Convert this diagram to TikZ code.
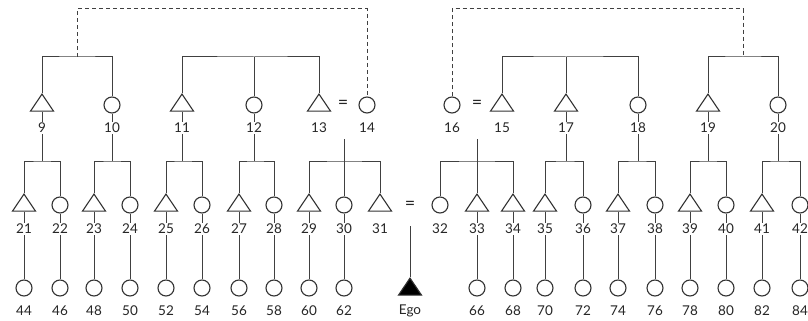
\documentclass[tikz,border=0pt]{standalone}
\usepackage{fontspec}
\setmainfont{Lato}
\usetikzlibrary{shapes.geometric}

\tikzset{
  kin/.style={line width=1pt, draw=black!75},
  male/.style={isosceles triangle, isosceles triangle apex angle=70,
    shape border rotate=90, draw=black!80, line width=1.1pt, inner sep=0pt,
    minimum height=17pt, minimum width=23pt, isosceles triangle stretches},
  ego/.style={male, fill=black},
  female/.style={circle, draw=black!80, line width=1.1pt, inner sep=0pt,
    minimum size=16pt},
  num/.style={fill=white, inner sep=0.8pt, text=black!85,
    font=\fontsize{13.5}{14}\selectfont},
  marr/.style={inner sep=0pt, text=black!85, font=\fontsize{18}{18}\selectfont},
  link/.style={line width=1pt, draw=black!75, dash pattern=on 4pt off 3pt}
}

\begin{document}
\begin{tikzpicture}[x=1pt,y=-1pt]
\useasboundingbox (0,0) rectangle (808,321);

% ---------- first generation ----------
\foreach \n/\x/\s in {9/42/male,10/112/female,11/182/male,12/254/female,
    13/319/male,14/367/female,16/452/female,15/502/male,17/566/male,
    18/638/female,19/708/male,20/778/female}{
  \node[\s] (p\n) at (\x,105) {};
}
\node[marr] (eqa) at (343,104) {=};
\node[marr] (eqb) at (477,104) {=};

% sibling junctions of the first generation
\coordinate (ka) at (77,57);
\coordinate (kb) at (254,57);
\coordinate (kc) at (566,57);
\coordinate (kd) at (743,57);
\coordinate (da) at (77,9);
\coordinate (db) at (743,9);

\draw[kin] (p9.north) |- (ka) -| (p10.north);
\draw[kin] (p11.north) |- (kb) -| (p13.north);
\draw[kin] (kb) -- (p12.north);
\draw[kin] (p15.north) |- (kc) -| (p18.north);
\draw[kin] (kc) -- (p17.north);
\draw[kin] (p19.north) |- (kd) -| (p20.north);

% dashed links between the two sides
\draw[link] (ka) -- (da) -| (p14.north);
\draw[link] (p16.north) |- (db) -- (kd);

% ---------- second generation ----------
\foreach \n/\x/\s in {21/24/male,22/60/female,23/94/male,24/130/female,
    25/166/male,26/202/female,27/239/male,28/274/female,29/309/male,
    30/344/female,31/380/male,32/440/female,33/477/male,34/513/male,
    35/545/male,36/583/female,37/618/male,38/655/female,39/690/male,
    40/726/female,41/762/male,42/800/female}{
  \node[\s] (p\n) at (\x,205) {};
}
\node[marr] (eqc) at (410,205) {=};

% sibling junctions of the second generation
\foreach \k/\x in {9/42,10/112,11/182,12/254,13/344,16/477,17/566,18/638,
    19/708,20/778}{
  \coordinate (k\k) at (\x,161);
}
\coordinate (ma) at (344,139);
\coordinate (mb) at (477,139);

\foreach \a/\k/\b in {21/9/22,23/10/24,25/11/26,27/12/28,29/13/31,32/16/34,
    35/17/36,37/18/38,39/19/40,41/20/42}{
  \draw[kin] (p\a.north) |- (k\k) -| (p\b.north);
}
\draw[kin] (k13) -- (p30.north);
\draw[kin] (k16) -- (p33.north);

% descent lines from the first generation
\foreach \n in {9,10,11,12,17,18,19,20}{
  \draw[kin] (p\n.south) -- (k\n);
}
\draw[kin] (ma) -- (k13);
\draw[kin] (mb) -- (k16);

% ---------- third generation ----------
\foreach \n/\x/\c in {44/24/21,46/60/22,48/94/23,50/130/24,52/166/25,
    54/202/26,56/239/27,58/274/28,60/309/29,62/344/30,66/477/33,68/513/34,
    70/545/35,72/583/36,74/618/37,76/655/38,78/690/39,80/726/40,82/762/41,
    84/800/42}{
  \node[female] (p\n) at (\x,288) {};
  \draw[kin] (p\c.south) -- (p\n.north);
  \node[num] (l\n) at (\x,311) {\n};
}

% Ego
\node[ego] (pego) at (410,289) {};
\coordinate (et) at (410,226);
\draw[kin] (et) -- (pego.north);
\node[num] (lego) at (410,311) {Ego};

% ---------- number labels ----------
\foreach \n/\x in {9/42,10/112,11/182,12/254,13/319,14/367,16/452,15/502,
    17/566,18/638,19/708,20/778}{
  \node[num] (l\n) at (\x,128) {\n};
}
\foreach \n/\x in {21/24,22/60,23/94,24/130,25/166,26/202,27/239,28/274,
    29/309,30/344,31/380,32/440,33/477,34/513,35/545,36/583,37/618,38/655,
    39/690,40/726,41/762,42/800}{
  \node[num] (l\n) at (\x,229) {\n};
}
\end{tikzpicture}
\end{document}
